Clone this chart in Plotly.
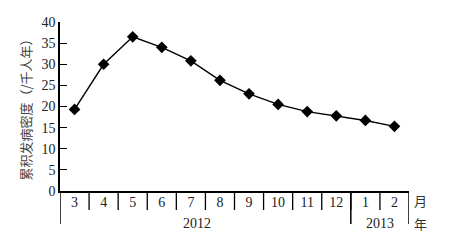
import plotly.graph_objects as go

months = ["3", "4", "5", "6", "7", "8", "9", "10", "11", "12", "1", "2"]
values = [19.3, 30.0, 36.5, 34.0, 30.8, 26.2, 23.0, 20.5, 18.8, 17.8, 16.7, 15.3]
years = ["2012", "2013"]
year_counts = [10, 2]
y_ticks = [0, 5, 10, 15, 20, 25, 30, 35, 40]

W, H = 474, 247
ML, MR, MT, MB = 60, 65, 22, 56
ph = H - MT - MB

def py(px_below):
    # pixel distance below the x axis -> paper y
    return -px_below / ph

xs = list(range(len(months)))
serif = "Liberation Serif, Times New Roman, serif"
cjk = "Noto Sans CJK SC, sans-serif"

fig = go.Figure()
fig.add_trace(go.Scatter(
    x=xs, y=values, mode="lines+markers",
    line=dict(color="black", width=1.4),
    marker=dict(symbol="diamond", size=9, color="black"),
    hoverinfo="skip", showlegend=False,
))

shapes = []
# month separators
for i in range(len(months) - 1):
    shapes.append(dict(type="line", xref="x", yref="paper", x0=i + 0.5, x1=i + 0.5,
                       y0=0, y1=py(19), line=dict(color="black", width=1.3)))
# year boundaries
bounds = [-0.5]
acc = -0.5
for c in year_counts:
    acc += c
    bounds.append(acc)
for b in bounds:
    shapes.append(dict(type="line", xref="x", yref="paper", x0=b, x1=b,
                       y0=0, y1=py(33), line=dict(color="black", width=1.5)))

annotations = []
start = -0.5
for yr, c in zip(years, year_counts):
    center = start + c / 2
    annotations.append(dict(x=center, y=py(32), xref="x", yref="paper", text=yr,
                            showarrow=False, xanchor="center", yanchor="middle",
                            xshift=-8 if yr == "2012" else 0,
                            font=dict(family=serif, size=14, color="#222")))
    start += c
annotations.append(dict(x=1, y=py(9), xref="paper", yref="paper", text="月",
                        showarrow=False, xanchor="left", yanchor="middle", xshift=3,
                        font=dict(family=cjk, size=13, color="#333")))
annotations.append(dict(x=1, y=py(32), xref="paper", yref="paper", text="年",
                        showarrow=False, xanchor="left", yanchor="middle", xshift=3,
                        font=dict(family=cjk, size=13, color="#333")))
annotations.append(dict(x=-35 / (W - ML - MR), y=0.5, xref="paper", yref="paper",
                        text="累积发病密度（/千人年）", textangle=-90, showarrow=False,
                        xanchor="center", yanchor="middle",
                        font=dict(family=cjk, size=13, color="#444")))

fig.update_layout(
    width=W, height=H,
    margin=dict(l=ML, r=MR, t=MT, b=MB),
    paper_bgcolor="white", plot_bgcolor="white",
    shapes=shapes, annotations=annotations,
    xaxis=dict(range=[-0.5, len(months) - 0.5], tickvals=xs, ticktext=months,
               showgrid=False, zeroline=False, showline=True, linecolor="black",
               linewidth=1.5, ticks="", ticklabelstandoff=-3,
               tickfont=dict(family=serif, size=14, color="#222")),
    yaxis=dict(range=[0, 40], tickvals=y_ticks, showgrid=False, zeroline=False,
               showline=True, linecolor="black", linewidth=1.5, ticks="inside",
               ticklen=7, tickwidth=1.3, tickcolor="black",
               tickfont=dict(family=serif, size=14, color="#222")),
)

fig.write_html("out.html", config={"displayModeBar": False},
               post_script="document.body.style.margin='0';")
